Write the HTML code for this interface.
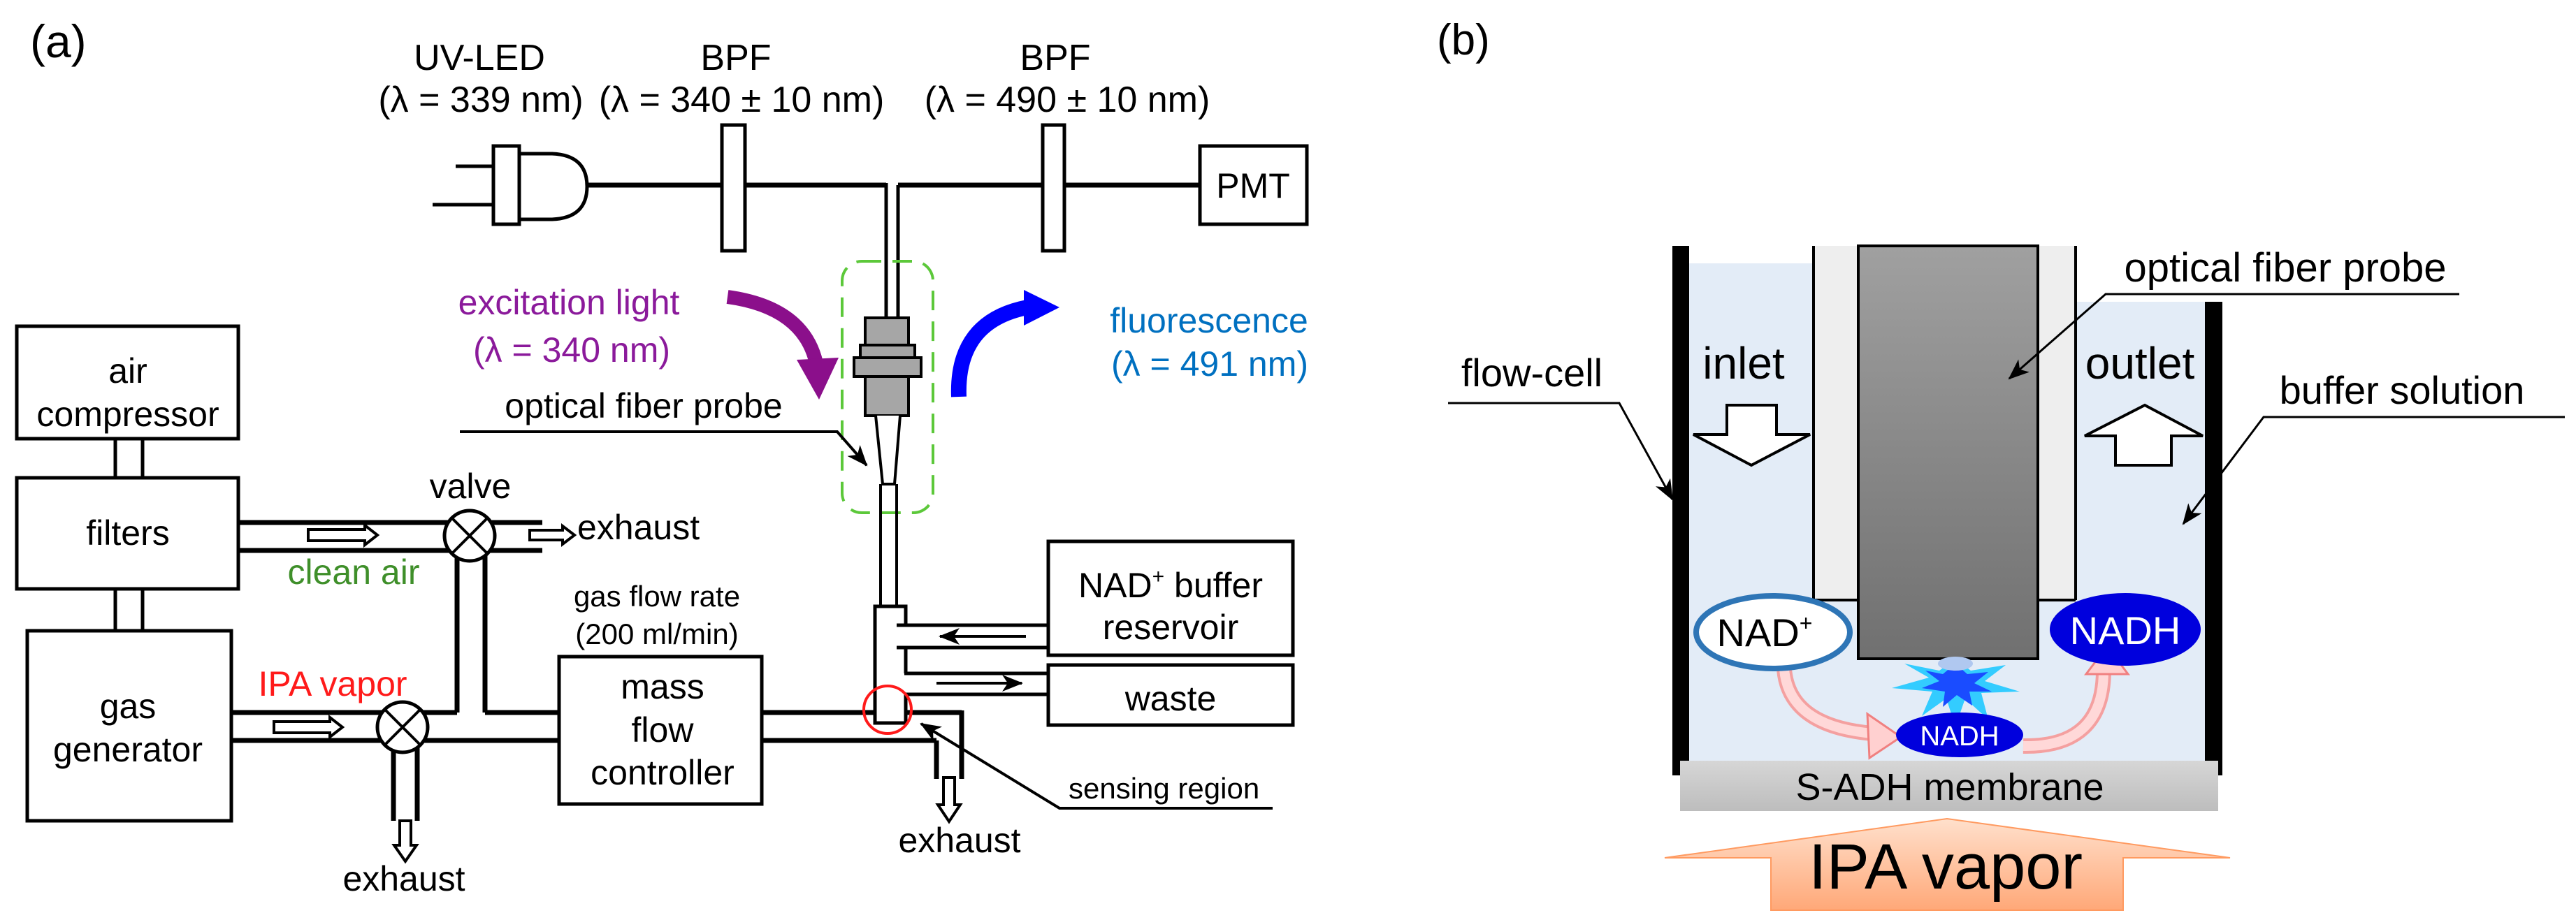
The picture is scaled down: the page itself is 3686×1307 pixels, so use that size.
<!DOCTYPE html>
<html><head><meta charset="utf-8"><style>
html,body{margin:0;padding:0;background:#fff;}
svg{display:block;}
text{font-family:"Liberation Sans",Arial,sans-serif;}
</style></head><body>
<svg width="3686" height="1307" viewBox="0 0 3686 1307" xmlns="http://www.w3.org/2000/svg">
<defs>
<linearGradient id="pg" x1="0" y1="0" x2="0" y2="1"><stop offset="0" stop-color="#a0a0a0"/><stop offset="1" stop-color="#707070"/></linearGradient>
<linearGradient id="mg" x1="0" y1="0" x2="0" y2="1"><stop offset="0" stop-color="#d6d6d6"/><stop offset="1" stop-color="#bdbdbd"/></linearGradient>
<linearGradient id="ag" x1="0" y1="0" x2="0" y2="1"><stop offset="0" stop-color="#ffe0cc"/><stop offset="1" stop-color="#ffa878"/></linearGradient>
<marker id="ahb" markerWidth="30" markerHeight="24" refX="28" refY="12" orient="auto" markerUnits="userSpaceOnUse"><path d="M0,0 L30,12 L0,24 L8,12 z" fill="#000"/></marker>
</defs>

<g font-size="52" fill="#000">
<text x="43" y="82" font-size="66">(a)</text>
<text x="686" y="100" text-anchor="middle">UV-LED</text>
<text x="688" y="160" text-anchor="middle">(λ = 339 nm)</text>
<text x="1053" y="100" text-anchor="middle">BPF</text>
<text x="1061" y="160" text-anchor="middle">(λ = 340 ± 10 nm)</text>
<text x="1510" y="100" text-anchor="middle">BPF</text>
<text x="1527" y="160" text-anchor="middle">(λ = 490 ± 10 nm)</text>
</g>

<g stroke="#000" stroke-width="5" fill="#fff">
<line x1="652" y1="238" x2="706" y2="238"/>
<line x1="619" y1="293" x2="706" y2="293"/>
<path d="M743,220 L790,220 Q840,222 840,267 Q840,312 790,314 L743,314 Z"/>
<rect x="706" y="209" width="37" height="112"/>
</g>
<line x1="840" y1="265" x2="1268" y2="265" stroke="#000" stroke-width="7"/>
<line x1="1285" y1="265" x2="1717" y2="265" stroke="#000" stroke-width="7"/>
<line x1="1268" y1="262" x2="1268" y2="455" stroke="#000" stroke-width="5"/>
<line x1="1285" y1="265" x2="1285" y2="455" stroke="#000" stroke-width="5"/>
<rect x="1033" y="179" width="33" height="180" fill="#fff" stroke="#000" stroke-width="5"/>
<rect x="1492" y="179" width="31" height="180" fill="#fff" stroke="#000" stroke-width="5"/>
<rect x="1717" y="209" width="153" height="112" fill="#fff" stroke="#000" stroke-width="5"/>
<text x="1793" y="283" font-size="50" text-anchor="middle">PMT</text>

<rect x="1205" y="374" width="130" height="360" rx="28" fill="none" stroke="#5cc83a" stroke-width="4" stroke-dasharray="28,16"/>
<g stroke="#000" stroke-width="4">
<rect x="1238" y="455" width="62" height="140" fill="#a6a6a6"/>
<rect x="1231" y="494" width="78" height="18" fill="#a6a6a6"/>
<rect x="1222" y="512" width="96" height="27" fill="#a6a6a6"/>
<path d="M1253,595 L1263,693 L1280,693 L1288,595" fill="#fff"/>
<line x1="1260" y1="693" x2="1260" y2="868"/>
<line x1="1283" y1="693" x2="1283" y2="868"/>
</g>
<path d="M1041,425 Q1150,440 1168,520" fill="none" stroke="#8b0f8b" stroke-width="20"/>
<path d="M1140,515 L1200,512 L1172,572 Z" fill="#8b0f8b"/>
<path d="M1372,568 Q1368,460 1470,440" fill="none" stroke="#0000ff" stroke-width="22"/>
<path d="M1465,415 L1516,440 L1465,466 Z" fill="#0000ff"/>
<text x="814" y="450" font-size="50" fill="#8b1a9b" text-anchor="middle">excitation light</text>
<text x="818" y="518" font-size="50" fill="#8b1a9b" text-anchor="middle">(λ = 340 nm)</text>
<text x="1730" y="476" font-size="50" fill="#0070c0" text-anchor="middle">fluorescence</text>
<text x="1731" y="538" font-size="50" fill="#0070c0" text-anchor="middle">(λ = 491 nm)</text>
<text x="921" y="598" font-size="50" text-anchor="middle">optical fiber probe</text>
<polyline points="658,618 1198,618 1240,666" fill="none" stroke="#000" stroke-width="4" marker-end="url(#ahb)"/>

<g stroke="#000" stroke-width="5" fill="#fff">
<rect x="24" y="467" width="317" height="161"/>
<rect x="24" y="684" width="317" height="159"/>
<rect x="39" y="903" width="292" height="272"/>
<rect x="800" y="940" width="290" height="211"/>
<rect x="1500" y="775" width="350" height="163"/>
<rect x="1500" y="952" width="350" height="86"/>
<line x1="165" y1="628" x2="165" y2="684"/><line x1="204" y1="628" x2="204" y2="684"/>
<line x1="165" y1="843" x2="165" y2="903"/><line x1="204" y1="843" x2="204" y2="903"/>
</g>
<g font-size="50" text-anchor="middle">
<text x="183" y="548">air</text>
<text x="183" y="610">compressor</text>
<text x="183" y="780">filters</text>
<text x="183" y="1028">gas</text>
<text x="183" y="1090">generator</text>
<text x="948" y="1000">mass</text>
<text x="948" y="1062">flow</text>
<text x="948" y="1123">controller</text>
<text x="1675" y="855">NAD<tspan font-size="30" dy="-20">+</tspan><tspan dy="20"> buffer</tspan></text>
<text x="1675" y="915">reservoir</text>
<text x="1675" y="1017">waste</text>
<text x="673" y="713">valve</text>
<text x="940" y="868" font-size="42">gas flow rate</text>
<text x="940" y="922" font-size="42">(200 ml/min)</text>
<text x="578" y="1275">exhaust</text>
<text x="1373" y="1220">exhaust</text>
<text x="506" y="836" fill="#3f8f2a">clean air</text>
<text x="476" y="996" fill="#ff1a1a">IPA vapor</text>
</g>
<text x="826" y="772" font-size="50">exhaust</text>
<text x="1529" y="1143" font-size="42">sensing region</text>
<polyline points="1821,1157 1516,1157 1318,1036" fill="none" stroke="#000" stroke-width="4" marker-end="url(#ahb)"/>

<g stroke="#000" stroke-width="7" fill="none">
<line x1="341" y1="748" x2="776" y2="748"/>
<line x1="341" y1="788" x2="776" y2="788"/>
<line x1="654" y1="790" x2="654" y2="1020"/>
<line x1="694" y1="790" x2="694" y2="1020"/>
<line x1="331" y1="1020" x2="654" y2="1020"/>
<line x1="694" y1="1020" x2="800" y2="1020"/>
<line x1="331" y1="1060" x2="800" y2="1060"/>
<line x1="1090" y1="1020" x2="1252" y2="1020"/>
<line x1="1296" y1="1020" x2="1376" y2="1020"/>
<line x1="1090" y1="1060" x2="1340" y2="1060"/>
<line x1="1376" y1="1017" x2="1376" y2="1115"/>
<line x1="1340" y1="1060" x2="1340" y2="1115"/>
<line x1="563" y1="1062" x2="563" y2="1175"/>
<line x1="597" y1="1062" x2="597" y2="1175"/>
</g>
<rect x="1252" y="868" width="44" height="167" fill="#fff"/>
<g stroke="#000" stroke-width="5" fill="none">
<path d="M1283,895 L1500,895 M1283,927 L1500,927 M1294,964 L1500,964 M1294,994 L1500,994"/>
<path d="M1296,895 L1296,868 L1252,868 L1252,1035 L1296,1035 L1296,994 M1296,927 L1296,964"/>
</g>
<line x1="1468" y1="911" x2="1345" y2="911" stroke="#000" stroke-width="4" marker-end="url(#ahb)"/>
<line x1="1340" y1="978" x2="1462" y2="978" stroke="#000" stroke-width="4" marker-end="url(#ahb)"/>
<circle cx="1270" cy="1016" r="34" fill="none" stroke="#ff1a1a" stroke-width="4"/>
<g stroke="#000" stroke-width="5" fill="#fff">
<circle cx="672" cy="767" r="36"/>
<circle cx="576" cy="1041" r="36"/>
</g>
<g stroke="#000" stroke-width="4">
<line x1="647" y1="742" x2="697" y2="792"/><line x1="697" y1="742" x2="647" y2="792"/>
<line x1="551" y1="1016" x2="601" y2="1066"/><line x1="601" y1="1016" x2="551" y2="1066"/>
</g>
<g stroke="#000" stroke-width="4" fill="#fff">
<path d="M441,758 L522,758 L522,752 L540,766 L522,780 L522,774 L441,774 Z"/>
<path d="M392,1033 L472,1033 L472,1027 L490,1041 L472,1055 L472,1049 L392,1049 Z"/>
<path d="M758,759 L805,759 L805,753 L822,766 L805,779 L805,773 L758,773 Z"/>
<path d="M572,1175 L588,1175 L588,1210 L596,1210 L580,1233 L564,1210 L572,1210 Z"/>
<path d="M1350,1113 L1366,1113 L1366,1152 L1374,1152 L1358,1176 L1342,1152 L1350,1152 Z"/>
</g>

<text x="2056" y="78" font-size="62">(b)</text>
<path d="M2417,377 L2972,377 L2972,432 L3155,432 L3155,1089 L2417,1089 Z" fill="#e3ecf7"/>
<rect x="2593" y="352" width="66" height="507" fill="#eeeeee"/>
<rect x="2916" y="352" width="56" height="507" fill="#eeeeee"/>
<g stroke="#000" stroke-width="4">
<line x1="2595" y1="352" x2="2595" y2="859"/>
<line x1="2595" y1="859" x2="2659" y2="859"/>
<line x1="2970" y1="352" x2="2970" y2="859"/>
<line x1="2916" y1="859" x2="2970" y2="859"/>
</g>
<rect x="2659" y="352" width="257" height="591" fill="url(#pg)" stroke="#000" stroke-width="4"/>
<rect x="2393" y="352" width="24" height="758" fill="#000"/>
<rect x="3155" y="432" width="25" height="678" fill="#000"/>
<polygon points="2798,943 2820,960 2870,952 2840,975 2890,990 2835,992 2845,1030 2812,1000 2798,1040 2785,1000 2750,1025 2765,990 2707,985 2760,970 2725,950 2775,960" fill="#33ccff"/>
<polygon points="2798,950 2815,965 2845,962 2825,978 2850,990 2818,990 2822,1010 2800,995 2780,1012 2783,990 2750,985 2775,975 2755,960 2780,965" fill="#1a4cff"/>
<ellipse cx="2798" cy="950" rx="25" ry="10" fill="#b0c8f0"/>
<path d="M2553,958 Q2560,1040 2680,1050" fill="none" stroke="#f4a0a0" stroke-width="22"/>
<path d="M2553,958 Q2560,1040 2680,1050" fill="none" stroke="#ffd8d8" stroke-width="14"/>
<path d="M2672,1022 L2720,1055 L2675,1085 Z" fill="#ffd0d0" stroke="#f08080" stroke-width="3"/>
<path d="M2895,1068 Q3010,1070 3010,960" fill="none" stroke="#f4a0a0" stroke-width="22"/>
<path d="M2895,1068 Q3010,1070 3010,960" fill="none" stroke="#ffd8d8" stroke-width="14"/>
<path d="M2985,965 L3015,925 L3045,965 Z" fill="#ffd0d0" stroke="#f08080" stroke-width="3"/>
<ellipse cx="2537" cy="905" rx="110" ry="52" fill="#fff" stroke="#2e75b6" stroke-width="8"/>
<text x="2525" y="925" font-size="56" text-anchor="middle">NAD<tspan font-size="32" dy="-22">+</tspan></text>
<ellipse cx="3041" cy="901" rx="108" ry="52" fill="#0000dd"/>
<text x="3041" y="922" font-size="56" fill="#fff" text-anchor="middle">NADH</text>
<ellipse cx="2804" cy="1052" rx="91" ry="32" fill="#0000dd"/>
<text x="2804" y="1067" font-size="40" fill="#fff" text-anchor="middle">NADH</text>
<rect x="2404" y="1089" width="770" height="72" fill="url(#mg)"/>
<text x="2790" y="1145" font-size="54" text-anchor="middle">S-ADH membrane</text>
<path d="M2382,1228 L2786,1172 L3191,1228 L3038,1228 L3038,1303 L2534,1303 L2534,1228 Z" fill="url(#ag)" stroke="#ff9a60" stroke-width="2"/>
<text x="2784" y="1272" font-size="92" text-anchor="middle">IPA vapor</text>
<text x="2495" y="542" font-size="64" text-anchor="middle">inlet</text>
<text x="3062" y="542" font-size="64" text-anchor="middle">outlet</text>
<path d="M2471,580 L2542,580 L2542,622 L2590,622 L2506,666 L2423,622 L2471,622 Z" fill="#fff" stroke="#000" stroke-width="4"/>
<path d="M3027,666 L3107,666 L3107,624 L3152,624 L3069,580 L2983,624 L3027,624 Z" fill="#fff" stroke="#000" stroke-width="4"/>
<text x="3270" y="403" font-size="58" text-anchor="middle">optical fiber probe</text>
<polyline points="3519,421 3013,421 2875,542" fill="none" stroke="#000" stroke-width="3" marker-end="url(#ahb)"/>
<text x="2192" y="553" font-size="56" text-anchor="middle">flow-cell</text>
<polyline points="2072,577 2317,577 2393,715" fill="none" stroke="#000" stroke-width="3" marker-end="url(#ahb)"/>
<text x="3437" y="578" font-size="56" text-anchor="middle">buffer solution</text>
<polyline points="3670,597 3239,597 3124,750" fill="none" stroke="#000" stroke-width="3" marker-end="url(#ahb)"/>
</svg>
</body></html>
